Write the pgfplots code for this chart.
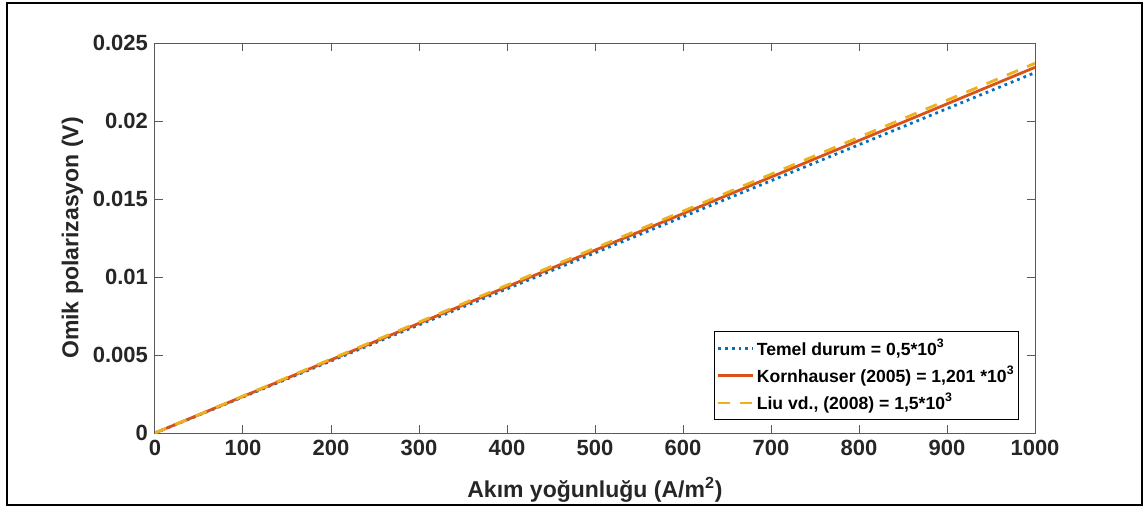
\documentclass[border=0pt]{standalone}
\usepackage{fontspec}
\setmainfont{Liberation Sans}
\usepackage{pgfplots}
\pgfplotsset{compat=1.18}
\definecolor{mblue}{rgb}{0,0.447,0.741}
\definecolor{morange}{rgb}{0.85,0.325,0.098}
\definecolor{myellow}{rgb}{0.929,0.694,0.125}
\definecolor{axgray}{rgb}{0.15,0.15,0.15}
\begin{document}
\begin{tikzpicture}
\path (-77.5pt,-39pt) rectangle (495.5pt,216.5pt);
\draw[line width=1.2pt] (-74pt,-36pt) rectangle (493.5pt,215pt);
\begin{axis}[
    scale only axis,
    width=440pt,
    height=195pt,
    xmin=0, xmax=1000,
    ymin=0, ymax=0.025,
    xtick={0,100,...,1000},
    ytick={0,0.005,0.01,0.015,0.02,0.025},
    yticklabels={0,0.005,0.01,0.015,0.02,0.025},
    scaled y ticks=false,
    /pgf/number format/1000 sep={},
    tick align=inside,
    major tick length=4pt,
    axis line style={gray!70!black, line width=0.5pt},
    tick style={gray!70!black, line width=0.5pt},
    /pgf/number format/assume math mode=true,
    ticklabel style={font=\fontsize{11}{13}\selectfont\bfseries, text=axgray},
    xlabel={Akım yoğunluğu (A/m\textsuperscript{2})},
    ylabel={Omik polarizasyon (V)},
    label style={font=\fontsize{11.5}{13}\selectfont\bfseries, text=axgray},
    xlabel style={yshift=-4pt},
    ylabel style={yshift=-2pt},
    legend cell align=left,
    legend style={at={(rel axis cs:0.982,0.033)}, anchor=south east,
        font=\fontsize{8.8}{11}\selectfont\bfseries, draw=black, line width=0.5pt,
        inner xsep=1pt, inner ysep=1.5pt, row sep=0pt,
        nodes={inner xsep=1pt}},
    legend image code/.code={\draw[#1] (0cm,0cm) -- (0.62cm,0cm);},
]
\addplot[mblue, line width=1.4pt, dotted] coordinates {(0,0) (250,0.005775) (500,0.01155) (750,0.017325) (1000,0.0231)};
\addlegendentry{Temel durum = 0,5*10\textsuperscript{3}}
\addplot[morange, line width=1.4pt] coordinates {(0,0) (250,0.00586) (500,0.01172) (750,0.01758) (1000,0.02344)};
\addlegendentry{Kornhauser (2005) = 1,201 *10\textsuperscript{3}}
\addplot[myellow, line width=1.4pt, dash pattern=on 6pt off 5pt] coordinates {(0,0) (250,0.005925) (500,0.01185) (750,0.017775) (1000,0.0237)};
\addlegendentry{Liu vd., (2008) = 1,5*10\textsuperscript{3}}
\end{axis}
\end{tikzpicture}
\end{document}
